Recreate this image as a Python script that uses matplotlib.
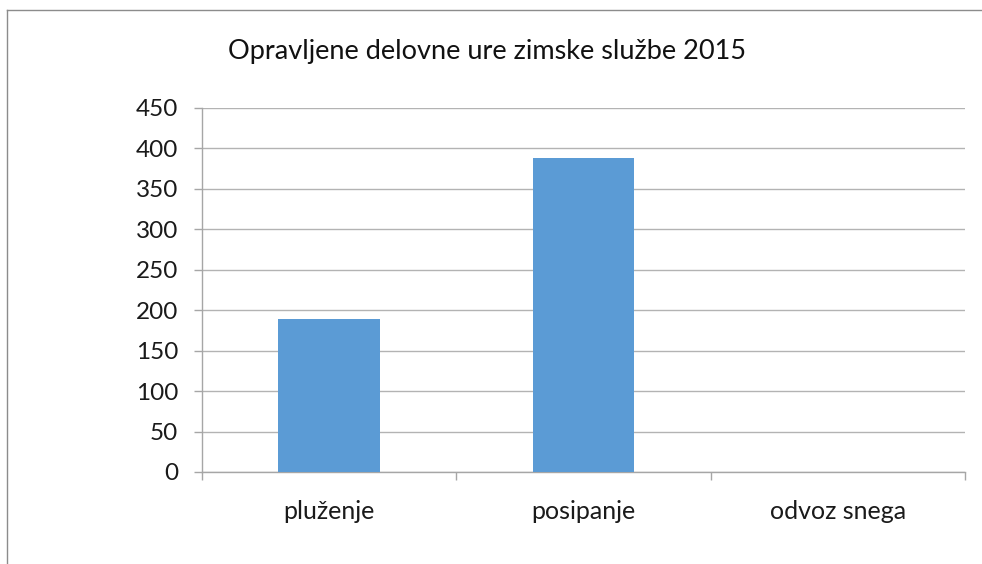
import matplotlib.pyplot as plt
from matplotlib.lines import Line2D
from matplotlib.ticker import FixedLocator

categories = ["pluženje", "posipanje", "odvoz snega"]
hours = [189, 388, 0]
y_ticks = [0, 50, 100, 150, 200, 250, 300, 350, 400, 450]
title = "Opravljene delovne ure zimske službe 2015"

plt.rcParams["font.family"] = ["Lato", "DejaVu Sans"]

fig = plt.figure(figsize=(9.82, 5.64), dpi=100)
ax = fig.add_axes([202 / 982, 1 - 472 / 564, (965 - 202) / 982, (472 - 108) / 564])

x = list(range(len(categories)))
ax.bar(x, hours, width=0.4, color="#5b9bd5", zorder=3)

ax.set_xlim(-0.5, 2.5)
ax.set_ylim(0, 450)
ax.set_yticks(y_ticks)
ax.set_xticks(x)
ax.set_xticklabels(categories, fontsize=18, color="#1a1a1a")
ax.xaxis.set_minor_locator(FixedLocator([-0.5, 0.5, 1.5, 2.5]))
ax.tick_params(axis="x", which="major", length=0, pad=20)
ax.tick_params(axis="x", which="minor", length=6, color="#a6a6a6", width=1)
ax.tick_params(axis="y", length=6, color="#a6a6a6", width=1, pad=11,
               labelsize=17.5, labelcolor="#1a1a1a")

ax.grid(axis="y", color="#b3b3b3", linewidth=1, zorder=0)
for s in ["top", "right"]:
    ax.spines[s].set_visible(False)
for s in ["left", "bottom"]:
    ax.spines[s].set_color("#a6a6a6")
    ax.spines[s].set_linewidth(1)

fig.text(487 / 982, 1 - 52 / 564, title, ha="center", va="center",
         fontsize=19.5, color="#111111")

# outer chart frame (only top and left edges visible)
fig.add_artist(Line2D([7 / 982, 1], [1 - 10 / 564, 1 - 10 / 564],
                      transform=fig.transFigure, color="#8c8c8c", lw=1))
fig.add_artist(Line2D([7 / 982, 7 / 982], [0, 1 - 10 / 564],
                      transform=fig.transFigure, color="#8c8c8c", lw=1))

fig.savefig("out.png", dpi=100)
